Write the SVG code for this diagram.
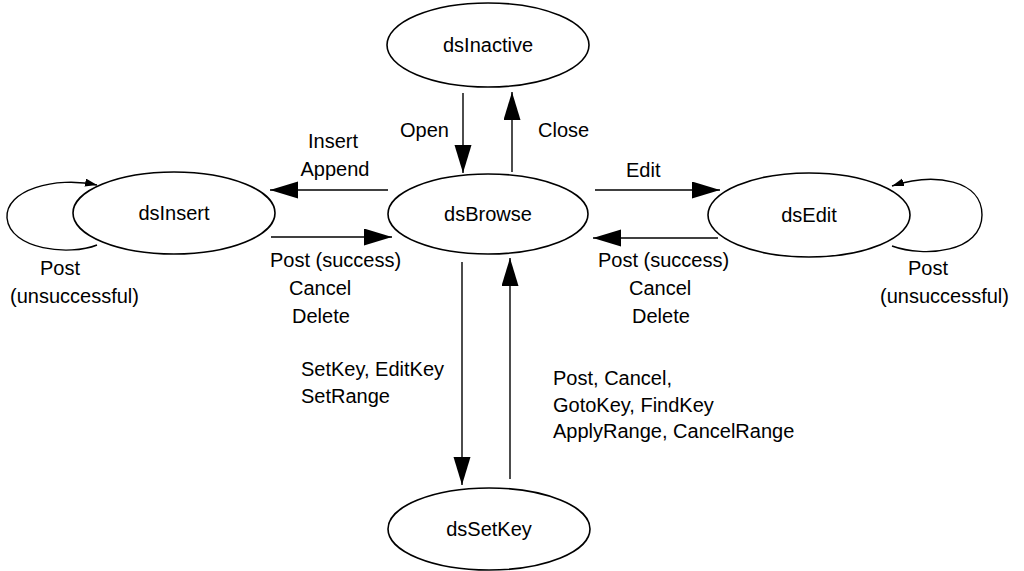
<svg xmlns="http://www.w3.org/2000/svg" width="1024" height="571" viewBox="0 0 1024 571">
<style>
.node{fill:#fff;stroke:#000;stroke-width:1.6}
.lbl{font-family:"Liberation Sans",Arial,sans-serif;font-size:20px;fill:#000}
.c{text-anchor:middle}
.edge{fill:none;stroke:#000;stroke-width:1.4}
</style>
<defs>
<marker id="big" markerUnits="userSpaceOnUse" markerWidth="30" markerHeight="18" refX="28" refY="8.5" orient="auto">
<path d="M0,0 L28,8.5 L0,17 z" fill="#000"/>
</marker>
<marker id="small" markerUnits="userSpaceOnUse" markerWidth="14" markerHeight="10" refX="12" refY="4" orient="auto">
<path d="M0,0 L12,4 L0,8 z" fill="#000"/>
</marker>
</defs>
<rect width="1024" height="571" fill="#fff"/>
<g id="connectors">
<line class="edge" x1="463" y1="93" x2="463" y2="173" marker-end="url(#big)"/>
<line class="edge" x1="512" y1="172" x2="512" y2="92" marker-end="url(#big)"/>
<line class="edge" x1="388" y1="190" x2="270" y2="190" marker-end="url(#big)"/>
<line class="edge" x1="271" y1="237" x2="392" y2="237" marker-end="url(#big)"/>
<line class="edge" x1="595" y1="190" x2="720" y2="190" marker-end="url(#big)"/>
<line class="edge" x1="718" y1="238" x2="593" y2="238" marker-end="url(#big)"/>
<line class="edge" x1="462" y1="262" x2="462" y2="485" marker-end="url(#big)"/>
<line class="edge" x1="510" y1="479" x2="510" y2="258" marker-end="url(#big)"/>
<path class="edge" d="M97,245 C70,256 10,250 7,218 C5,190 55,176 97,185" marker-end="url(#small)"/>
<path class="edge" d="M892,246 C925,258 982,252 982,215 C982,180 935,172 892,186" marker-end="url(#small)"/>
<text class="lbl c" x="333" y="148">Insert</text>
<text class="lbl c" x="335" y="176">Append</text>
<text class="lbl" x="400" y="137">Open</text>
<text class="lbl" x="538" y="137">Close</text>
<text class="lbl" x="626" y="177">Edit</text>
<text class="lbl" x="270" y="267">Post (success)</text>
<text class="lbl" x="289" y="295">Cancel</text>
<text class="lbl" x="292" y="323">Delete</text>
<text class="lbl" x="598" y="267">Post (success)</text>
<text class="lbl" x="629" y="295">Cancel</text>
<text class="lbl" x="632" y="323">Delete</text>
<text class="lbl" x="40" y="275">Post</text>
<text class="lbl" x="10" y="303">(unsuccessful)</text>
<text class="lbl" x="908" y="275">Post</text>
<text class="lbl" x="880" y="303">(unsuccessful)</text>
<text class="lbl" x="301" y="376">SetKey, EditKey</text>
<text class="lbl" x="301" y="403">SetRange</text>
<text class="lbl" x="553" y="385">Post, Cancel,</text>
<text class="lbl" x="553" y="412">GotoKey, FindKey</text>
<text class="lbl" x="553" y="438">ApplyRange, CancelRange</text>
</g>
<g id="dsInactive"><ellipse class="node" cx="488" cy="45" rx="101" ry="42"/><text class="lbl c" x="488" y="52">dsInactive</text></g>
<g id="dsBrowse"><ellipse class="node" cx="488" cy="214" rx="100" ry="40"/><text class="lbl c" x="488" y="221">dsBrowse</text></g>
<g id="dsInsert"><ellipse class="node" cx="174" cy="213" rx="101" ry="41"/><text class="lbl c" x="174" y="220">dsInsert</text></g>
<g id="dsEdit"><ellipse class="node" cx="809" cy="215" rx="101" ry="42"/><text class="lbl c" x="809" y="222">dsEdit</text></g>
<g id="dsSetKey"><ellipse class="node" cx="489" cy="529" rx="101" ry="41"/><text class="lbl c" x="489" y="536">dsSetKey</text></g>
</svg>
